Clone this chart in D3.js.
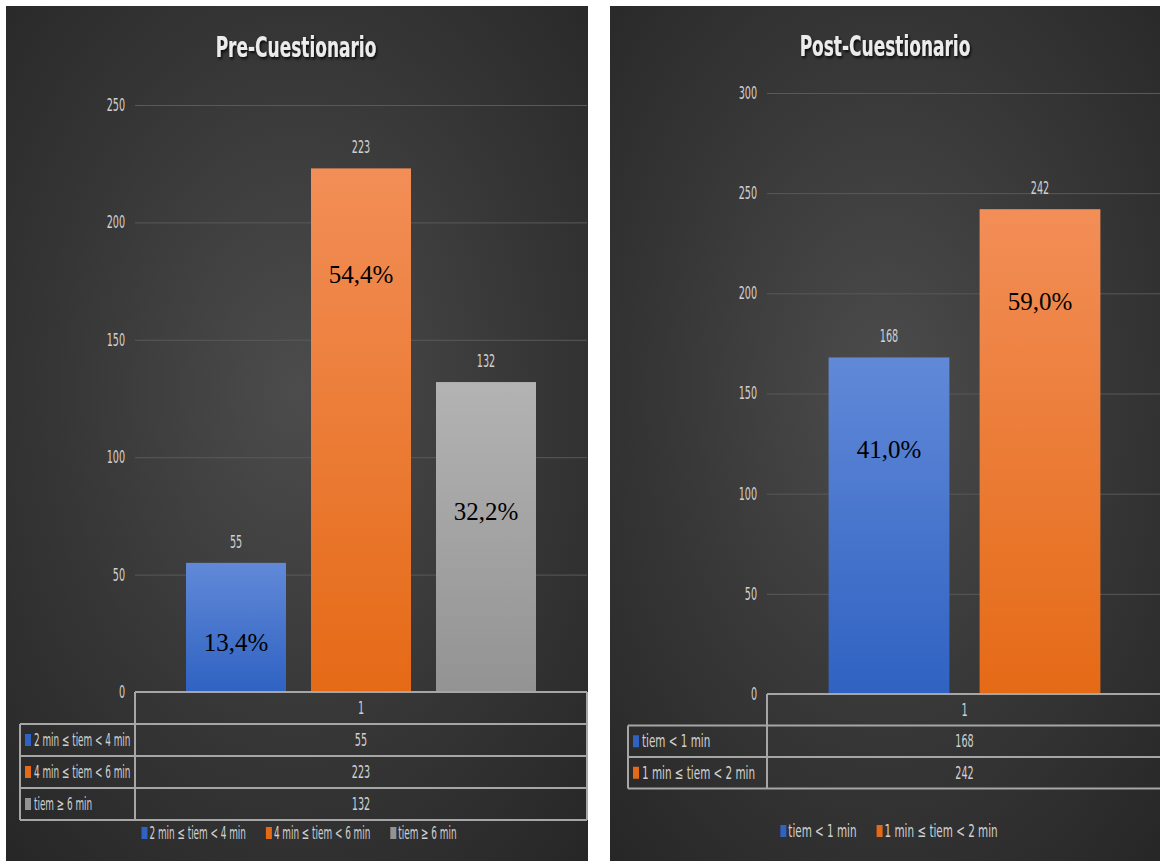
<!DOCTYPE html>
<html><head><meta charset="utf-8">
<script src="https://cdn.jsdelivr.net/npm/d3@7"></script>
<style>
html,body{margin:0;padding:0;background:#fff;}
svg{display:block;}
.cond{font-family:"Liberation Sans Narrow","DejaVu Sans Condensed","Open Sans",sans-serif;}
</style>
</head><body>
<svg id="chart" width="1160" height="861"></svg>
<script>
// ---- data ----
const category = ["1"];
const preSeries = ["2 min ≤ tiem < 4 min", "4 min ≤ tiem < 6 min", "tiem ≥ 6 min"];
const preValues = [55, 223, 132];
const prePercent = ["13,4%", "54,4%", "32,2%"];
const prePercentAt = [21, 178, 77];
const preTicks = [0, 50, 100, 150, 200, 250];

const postSeries = ["tiem < 1 min", "1 min ≤ tiem < 2 min"];
const postValues = [168, 242];
const postPercent = ["41,0%", "59,0%"];
const postPercentAt = [122, 196];
const postTicks = [0, 50, 100, 150, 200, 250, 300];

const seriesColors = [
  ["#6189d8", "#2f62c2"],
  ["#f28e57", "#e56a16"],
  ["#b3b3b3", "#939393"]
];

const svg = d3.select("#chart");
const defs = svg.append("defs");

// background gradient
const bg = defs.append("radialGradient").attr("id", "bg")
  .attr("cx", "50%").attr("cy", "45%").attr("r", "75%");
bg.append("stop").attr("offset", "0%").attr("stop-color", "#4c4c4c");
bg.append("stop").attr("offset", "55%").attr("stop-color", "#363636");
bg.append("stop").attr("offset", "100%").attr("stop-color", "#262626");

seriesColors.forEach((c, i) => {
  const g = defs.append("linearGradient").attr("id", "bar" + i)
    .attr("x1", 0).attr("y1", 0).attr("x2", 0).attr("y2", 1);
  g.append("stop").attr("offset", "0%").attr("stop-color", c[0]);
  g.append("stop").attr("offset", "100%").attr("stop-color", c[1]);
});

const sh = defs.append("filter").attr("id", "shadow")
  .attr("x", "-10%").attr("y", "-30%").attr("width", "130%").attr("height", "170%");
sh.append("feDropShadow").attr("dx", 2).attr("dy", 2).attr("stdDeviation", 1.5)
  .attr("flood-color", "#000").attr("flood-opacity", 0.8);

// horizontally condense text around its anchor (Calibri-like narrow look)
function condense(sel, k) {
  sel.each(function () {
    const t = d3.select(this);
    const x = +t.attr("x") || 0;
    t.attr("transform", `translate(${x},0) scale(${k},1) translate(${-x},0)`);
  });
  return sel;
}
const K = 0.63;
const FS = 17;

function drawChart(cfg) {
  const KL = cfg.labelScale;
  const g = svg.append("g");
  g.append("rect").attr("x", cfg.panel[0]).attr("y", cfg.panel[1])
    .attr("width", cfg.panel[2]).attr("height", cfg.panel[3]).attr("fill", "url(#bg)");

  g.append("text").attr("class", "cond")
    .attr("x", cfg.titleX).attr("y", cfg.titleY)
    .attr("text-anchor", "middle").attr("fill", "#ececec")
    .attr("font-size", 28).attr("font-weight", "bold")
    .attr("filter", "url(#shadow)")
    .text(cfg.title)
    .call(condense, 0.675);

  const y = d3.scaleLinear().domain([0, d3.max(cfg.ticks)]).range([cfg.y0, cfg.yTop]);
  const x0 = d3.scaleBand().domain(category).range([cfg.left, cfg.right])
    .paddingInner(0).paddingOuter(cfg.outer);
  const x1 = d3.scaleBand().domain(cfg.series).range([0, x0.bandwidth()])
    .paddingInner(0.2).paddingOuter(0.1);

  // gridlines + axis labels
  const ax = g.append("g").attr("transform", `translate(${cfg.left},0)`)
    .call(d3.axisLeft(y).tickValues(cfg.ticks).tickSize(-(cfg.gridRight - cfg.left)).tickPadding(10));
  ax.select(".domain").remove();
  ax.selectAll(".tick line").attr("stroke", "#595959").attr("stroke-width", 1)
    .filter(d => d === 0).remove();
  ax.selectAll(".tick text").attr("class", "cond").attr("fill", "#d0d0d0").attr("font-size", FS)
    .call(condense, K);

  const data = cfg.series.map((s, i) => ({ s, v: cfg.values[i], p: cfg.percent[i], at: cfg.percentAt[i], i }));
  const gx = x0(category[0]);

  g.selectAll(".bar").data(data).enter().append("rect")
    .attr("x", d => gx + x1(d.s)).attr("width", x1.bandwidth())
    .attr("y", d => y(d.v)).attr("height", d => y(0) - y(d.v))
    .attr("fill", d => `url(#bar${d.i})`);

  g.selectAll(".vlab").data(data).enter().append("text").attr("class", "cond")
    .attr("x", d => gx + x1(d.s) + x1.bandwidth() / 2)
    .attr("y", d => y(d.v) - 15)
    .attr("text-anchor", "middle").attr("fill", "#d0d0d0").attr("font-size", FS)
    .text(d => d.v)
    .call(condense, K);

  g.selectAll(".plab").data(data).enter().append("text")
    .attr("x", d => gx + x1(d.s) + x1.bandwidth() / 2)
    .attr("y", d => y(d.at))
    .attr("dy", "0.35em")
    .attr("text-anchor", "middle").attr("fill", "#000")
    .attr("font-family", "'Liberation Serif','Times New Roman',serif").attr("font-size", 25)
    .text(d => d.p);

  // data table
  const rowH = cfg.rowH;
  const tTop = y(0);
  const line = (x1_, y1_, x2_, y2_) => g.append("line")
    .attr("x1", x1_).attr("y1", y1_).attr("x2", x2_).attr("y2", y2_)
    .attr("stroke", "#a6a6a6").attr("stroke-width", 2);
  const nRows = cfg.series.length;
  const tBottom = tTop + rowH * (nRows + 1);
  line(cfg.left, tTop, cfg.tableRight, tTop);
  for (let r = 1; r <= nRows + 1; r++) {
    line(cfg.tableLeft, tTop + rowH * r, cfg.tableRight, tTop + rowH * r);
  }
  line(cfg.left, tTop, cfg.left, tBottom);
  line(cfg.tableLeft, tTop + rowH, cfg.tableLeft, tBottom);
  line(cfg.tableRight, tTop, cfg.tableRight, tBottom);

  const mid = (cfg.left + cfg.right) / 2;
  g.append("text").attr("class", "cond").attr("x", mid).attr("y", tTop + rowH / 2)
    .attr("dy", "0.35em").attr("text-anchor", "middle").attr("fill", "#d0d0d0")
    .attr("font-size", FS).text(category[0]).call(condense, K);

  data.forEach((d, r) => {
    const cy = tTop + rowH * (r + 1.5);
    g.append("rect").attr("x", cfg.tableLeft + 5).attr("y", cy - 6).attr("width", 6).attr("height", 12)
      .attr("fill", seriesColors[d.i][1]);
    g.append("text").attr("class", "cond").attr("x", cfg.tableLeft + 14).attr("y", cy)
      .attr("dy", "0.35em").attr("fill", "#d0d0d0").attr("font-size", FS).text(d.s)
      .call(condense, KL);
    g.append("text").attr("class", "cond").attr("x", mid).attr("y", cy)
      .attr("dy", "0.35em").attr("text-anchor", "middle").attr("fill", "#d0d0d0")
      .attr("font-size", FS).text(d.v).call(condense, K);
  });

  // legend
  const lg = g.append("g").attr("transform", `translate(0,${cfg.legendY})`);
  const items = lg.selectAll("g").data(data).enter().append("g");
  items.append("rect").attr("y", -6).attr("width", 6).attr("height", 12)
    .attr("fill", d => seriesColors[d.i][1]);
  items.append("text").attr("class", "cond").attr("x", 8).attr("dy", "0.35em")
    .attr("fill", "#d0d0d0").attr("font-size", FS).text(d => d.s)
    .call(condense, KL);
  const gap = 20;
  const widths = [];
  items.each(function () { widths.push(this.getBBox().width); });
  const total = d3.sum(widths) + gap * (widths.length - 1);
  let xpos = cfg.legendCenter - total / 2;
  items.each(function (d, i) {
    d3.select(this).attr("transform", `translate(${xpos},0)`);
    xpos += widths[i] + gap;
  });
}

drawChart({
  panel: [6, 6, 582, 855],
  title: "Pre-Cuestionario", titleX: 296, titleY: 57,
  series: preSeries, values: preValues, percent: prePercent, percentAt: prePercentAt, ticks: preTicks,
  y0: 692, yTop: 105, left: 135, right: 587, gridRight: 587, outer: 0.1027,
  tableLeft: 20, tableRight: 587, rowH: 32, labelScale: 0.58,
  legendY: 833, legendCenter: 299
});

drawChart({
  panel: [610, 6, 550, 855],
  title: "Post-Cuestionario", titleX: 885, titleY: 56,
  series: postSeries, values: postValues, percent: postPercent, percentAt: postPercentAt, ticks: postTicks,
  y0: 694, yTop: 93, left: 767, right: 1162, gridRight: 1162, outer: 0.154,
  tableLeft: 628, tableRight: 1162, rowH: 31.5, labelScale: 0.68,
  legendY: 831, legendCenter: 889
});
</script>
</body></html>
